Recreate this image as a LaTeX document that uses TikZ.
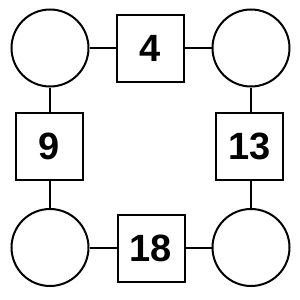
\documentclass[tikz,border=0pt]{standalone}
\usepackage{fontspec}
\setmainfont{Liberation Sans}
\begin{document}
\begin{tikzpicture}[x=1pt,y=-1pt,
  ring/.style={draw=black,line width=2pt,circle,minimum size=77pt,inner sep=0pt,fill=white},
  numbox/.style={draw=black,line width=2pt,rectangle,minimum size=67pt,inner sep=0pt,fill=white,
    font=\fontsize{38}{40}\selectfont\bfseries},
  link/.style={line width=2pt}]
\useasboundingbox (0,0) rectangle (300,300);
\node[ring] (c1) at (50,48) {};
\node[ring] (c2) at (251,48) {};
\node[ring] (c3) at (50,247.5) {};
\node[ring] (c4) at (251,247.5) {};
\node[numbox] (b1) at (150,48) {4};
\node[numbox] (b2) at (49,146) {9};
\node[numbox] (b3) at (249.5,146) {13};
\node[numbox] (b4) at (151,248.5) {18};
\draw[link] (c1) -- (b1);
\draw[link] (b1) -- (c2);
\draw[link] (c1.south) -- (b2.north -| c1.south);
\draw[link] (c3.north) -- (b2.south -| c3.north);
\draw[link] (c2.south) -- (b3.north -| c2.south);
\draw[link] (c4.north) -- (b3.south -| c4.north);
\draw[link] (c3.east) -- (b4.west |- c3.east);
\draw[link] (c4.west) -- (b4.east |- c4.west);
\end{tikzpicture}
\end{document}
